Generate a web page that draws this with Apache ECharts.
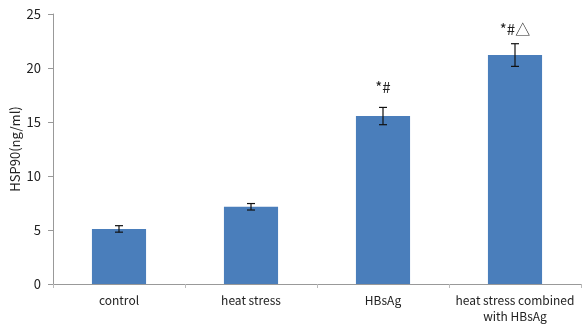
<!DOCTYPE html>
<html><head><meta charset="utf-8">
<script src="https://cdn.jsdelivr.net/npm/echarts@6/dist/echarts.min.js"></script>
<style>html,body{margin:0;padding:0;background:#fff}#c{width:582px;height:325px}</style>
</head><body><div id="c"></div>
<script>
const categories = ['control', 'heat stress', 'HBsAg', 'heat stress combined\nwith HBsAg'];
const means = [5.1, 7.15, 15.55, 21.2];
const errors = [0.3, 0.3, 0.8, 1.05];
const marks = ['', '', '*#', '*#\u25B3'];
const markY = [0, 0, 18.2, 23.6];
const yTicks = [0, 5, 10, 15, 20, 25];

const font = '"Noto Sans CJK SC", "Noto Sans", sans-serif';
const chart = echarts.init(document.getElementById('c'));
chart.setOption({
  animation: false,
  grid: { left: 53, right: 1, top: 14, bottom: 41, containLabel: false, outerBoundsMode: 'none' },
  xAxis: {
    type: 'category', data: categories,
    axisLine: { lineStyle: { color: '#999' } },
    axisTick: { show: true, alignWithLabel: false, length: 4, lineStyle: { color: '#bbb' } },
    axisLabel: { color: '#222', fontSize: 12, fontFamily: font, margin: 8, lineHeight: 16, interval: 0 }
  },
  yAxis: {
    type: 'value', min: 0, max: 25, interval: 5,
    name: 'HSP90(ng/ml)', nameLocation: 'middle', nameGap: 31, nameRotate: 90, nameMoveOverlap: false,
    nameTextStyle: { color: '#222', fontSize: 13, fontFamily: font },
    axisLine: { show: true, lineStyle: { color: '#999' } },
    axisTick: { show: true, length: 5, lineStyle: { color: '#999' } },
    splitLine: { show: false },
    axisLabel: { color: '#222', fontSize: 13, fontFamily: font, margin: 12,
      formatter: v => yTicks.includes(v) ? String(v) : '' }
  },
  series: [
    { type: 'bar', data: means, barWidth: '41%', itemStyle: { color: '#4a7ebb' } },
    { type: 'custom', data: means.map((m, i) => [i, m, errors[i]]), z: 10,
      renderItem: (params, api) => {
        const i = api.value(0), m = api.value(1), e = api.value(2);
        const hi = api.coord([i, m + e]), lo = api.coord([i, m - e]);
        const w = 4;
        const st = { stroke: '#111', lineWidth: 1.2 };
        return { type: 'group', children: [
          { type: 'line', shape: { x1: hi[0], y1: hi[1], x2: lo[0], y2: lo[1] }, style: st },
          { type: 'line', shape: { x1: hi[0] - w, y1: hi[1], x2: hi[0] + w, y2: hi[1] }, style: st },
          { type: 'line', shape: { x1: lo[0] - w, y1: lo[1], x2: lo[0] + w, y2: lo[1] }, style: st }
        ]};
      } },
    { type: 'custom', data: marks.map((t, i) => [i, markY[i], t]), z: 11,
      renderItem: (params, api) => {
        const i = api.value(0), y = api.value(1);
        const t = marks[i];
        const p = api.coord([i, y]);
        return { type: 'text', style: { text: t, x: p[0], y: p[1], align: 'center', verticalAlign: 'middle',
          fill: '#222', fontSize: 15, fontFamily: font } };
      } }
  ]
});
</script></body></html>
